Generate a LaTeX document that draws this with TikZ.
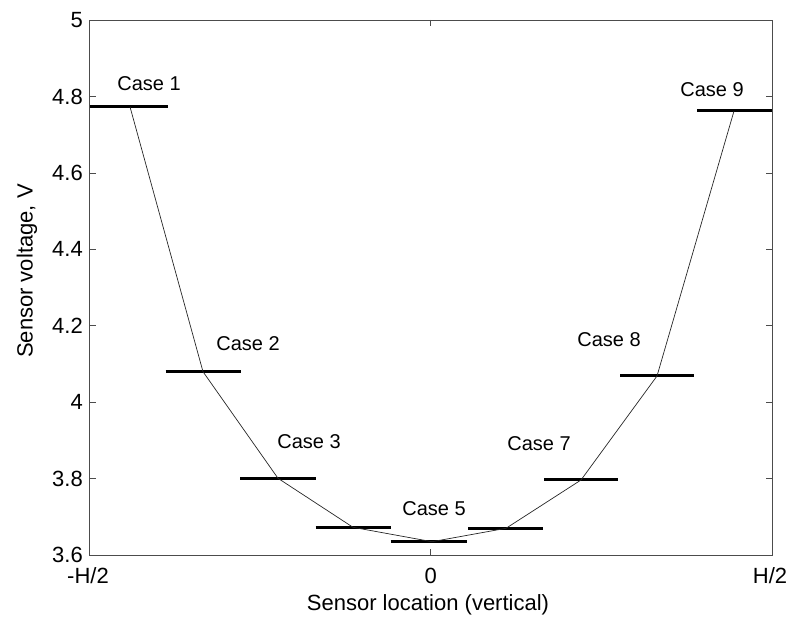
\documentclass[tikz,border=0pt]{standalone}
\usepackage{fontspec}
\setmainfont{Liberation Sans}
\begin{document}
\begin{tikzpicture}[x=1pt,y=1pt,
  axisline/.style={draw=black!70, line width=0.8pt},
  tickmark/.style={draw=black!70, line width=0.6pt},
  casebar/.style={line width=3pt, black},
  curveline/.style={line width=0.7pt, black!85},
  ticklab/.style={font=\fontsize{22}{24}\selectfont, inner sep=0pt},
  caselab/.style={font=\fontsize{20}{22}\selectfont, inner sep=0pt},
  axlab/.style={font=\fontsize{22}{24}\selectfont, inner sep=0pt}]
\useasboundingbox (0,0) rectangle (791,626);
% axes box
\coordinate (ll) at (89.5,71);
\coordinate (ur) at (772,606);
\draw[axisline] (ll) rectangle (ur);
% y ticks and labels
\foreach \v/\y [count=\i] in {3.6/71, 3.8/147.4, 4/223.8, 4.2/300.3, 4.4/376.7, 4.6/453.1, 4.8/529.5, 5/606}{
  \draw[tickmark] (89.5,\y) -- (95.5,\y);
  \draw[tickmark] (772,\y) -- (766,\y);
  \node[ticklab, anchor=east] (yl\i) at (83,\y) {\v};
}
% x ticks and labels
\draw[tickmark] (430.75,71) -- (430.75,77);
\draw[tickmark] (430.75,606) -- (430.75,600);
\node[ticklab] (xl1) at (88,50) {-H/2};
\node[ticklab] (xl2) at (430.75,50) {0};
\node[ticklab] (xl3) at (770,50) {H/2};
% axis labels
\node[axlab] (xlab) at (428,21) {Sensor location (vertical)};
\node[axlab, rotate=90] (ylab) at (27,355) {Sensor voltage, V};
% data points
\coordinate (p1) at (130,519.2);
\coordinate (p2) at (203,254.3);
\coordinate (p3) at (278,147.7);
\coordinate (p4) at (353,98.7);
\coordinate (p5) at (432,84.3);
\coordinate (p6) at (506,97.7);
\coordinate (p7) at (581,146);
\coordinate (p8) at (657,250);
\coordinate (p9) at (734,515);
% bars
\draw[casebar] (90,519.2) -- (168,519.2);
\draw[casebar] (165.7,254.3) -- (241,254.3);
\draw[casebar] (240,147.7) -- (315.7,147.7);
\draw[casebar] (315.7,98.7) -- (390.7,98.7);
\draw[casebar] (390.7,84.3) -- (467.3,84.3);
\draw[casebar] (468,97.7) -- (542.7,97.7);
\draw[casebar] (544.3,146) -- (618.3,146);
\draw[casebar] (620,250) -- (694.3,250);
\draw[casebar] (697,515) -- (772,515);
% curve
\draw[curveline] (p1) -- (p2) -- (p3) -- (p4) -- (p5) -- (p6) -- (p7) -- (p8) -- (p9);
% case labels
\node[caselab] (c1) at (149,542) {Case 1};
\node[caselab] (c2) at (248,282) {Case 2};
\node[caselab] (c3) at (309,184) {Case 3};
\node[caselab] (c5) at (434,117) {Case 5};
\node[caselab] (c7) at (539,182) {Case 7};
\node[caselab] (c8) at (609,286) {Case 8};
\node[caselab] (c9) at (712,536) {Case 9};
\end{tikzpicture}
\end{document}
